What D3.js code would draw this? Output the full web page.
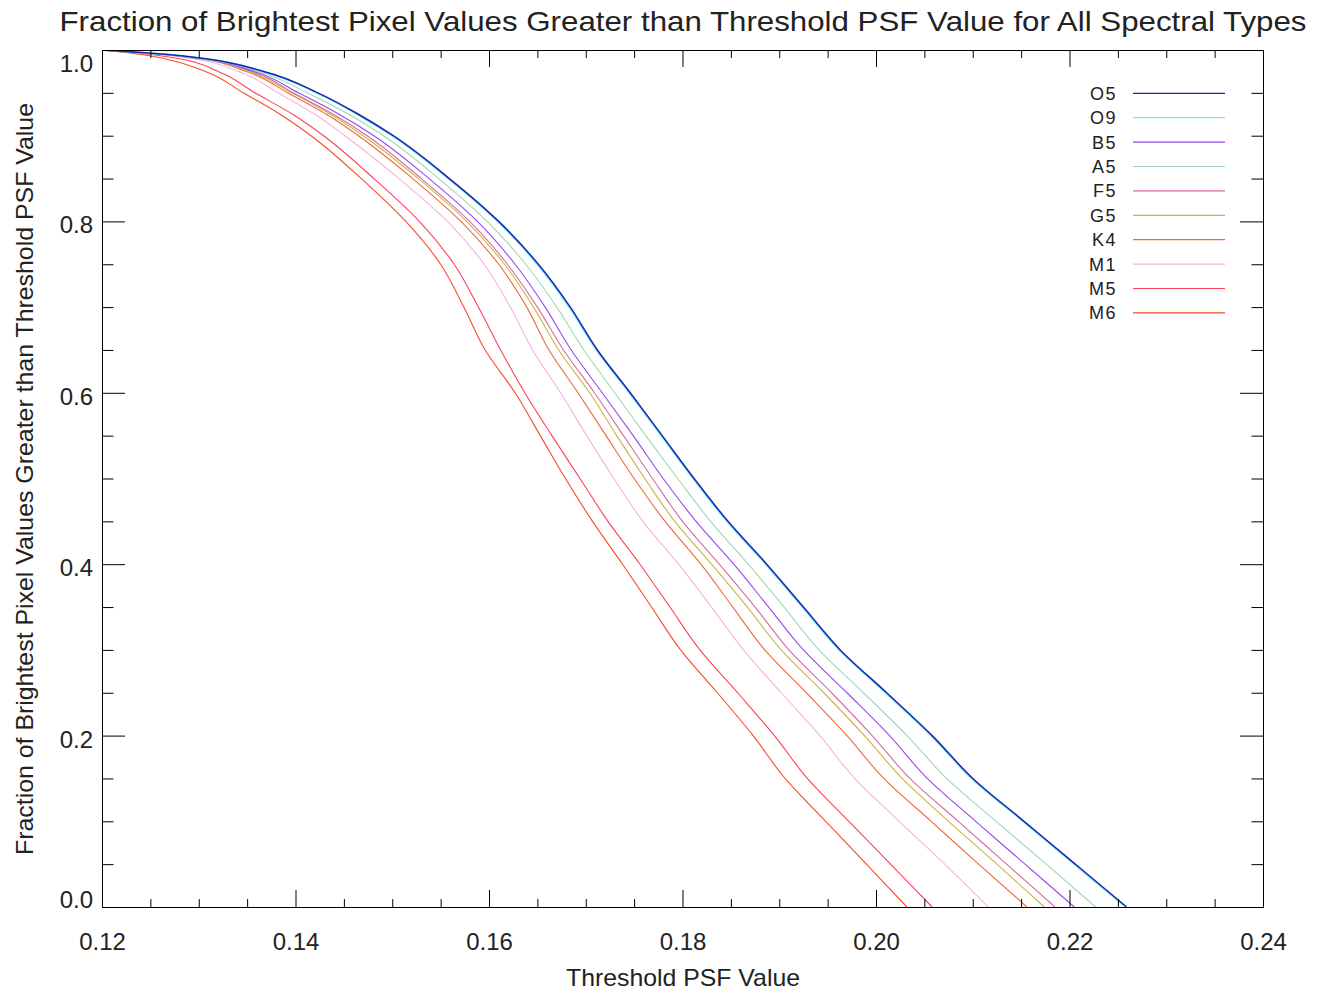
<!DOCTYPE html>
<html>
<head>
<meta charset="utf-8">
<script src="https://cdn.jsdelivr.net/npm/d3@7"></script>
<style>
  html, body { margin: 0; padding: 0; background: #fff; }
  svg { display: block; }
  text { font-family: "Liberation Sans", Arial, Helvetica, sans-serif; fill: #222; }
</style>
</head>
<body>
<svg id="chart" width="1326" height="996"></svg>
<script>
// ---------------- data ----------------
const titleText = "Fraction of Brightest Pixel Values Greater than Threshold PSF Value for All Spectral Types";
const xTitleText = "Threshold PSF Value";
const yTitleText = "Fraction of Brightest Pixel Values Greater than Threshold PSF Value";

const seriesNames = ["O5", "O9", "B5", "A5", "F5", "G5", "K4", "M1", "M5", "M6"];
const seriesColors = ["#2222b0", "#6ff0f0", "#9448f0", "#9fd8b0", "#d46ca6", "#cdb440", "#f2683a", "#f8b2da", "#ff3f58", "#fa4a26"];

// fraction of pixels (y) at which each series' threshold (x) was read
const fractionLevels = [1.0, 0.995, 0.99, 0.975, 0.95, 0.925, 0.9, 0.85, 0.8, 0.75, 0.7, 0.65, 0.6, 0.55, 0.5, 0.45, 0.4, 0.35, 0.3, 0.25, 0.2, 0.15, 0.1, 0.05, 0.0];

const thresholdsO5 = [0.1200, 0.1265, 0.1305, 0.1367, 0.1423, 0.1465, 0.1501, 0.1559, 0.1610, 0.1651, 0.1684, 0.1712, 0.1746, 0.1779, 0.1812, 0.1847, 0.1887, 0.1925, 0.1963, 0.2011, 0.2058, 0.2100, 0.2153, 0.2206, 0.2259];
const thresholdsO9 = [0.1200, 0.1264, 0.1304, 0.1366, 0.1422, 0.1464, 0.1500, 0.1558, 0.1609, 0.1650, 0.1683, 0.1711, 0.1745, 0.1778, 0.1811, 0.1846, 0.1886, 0.1924, 0.1962, 0.2010, 0.2057, 0.2099, 0.2152, 0.2205, 0.2258];
const thresholdsB5 = [0.1200, 0.1263, 0.1302, 0.1357, 0.1403, 0.1445, 0.1481, 0.1538, 0.1588, 0.1627, 0.1658, 0.1685, 0.1717, 0.1749, 0.1780, 0.1814, 0.1853, 0.1889, 0.1925, 0.1970, 0.2014, 0.2053, 0.2103, 0.2154, 0.2205];
const thresholdsA5 = [0.1200, 0.1264, 0.1303, 0.1361, 0.1412, 0.1455, 0.1491, 0.1548, 0.1598, 0.1638, 0.1670, 0.1698, 0.1730, 0.1762, 0.1795, 0.1829, 0.1868, 0.1905, 0.1941, 0.1987, 0.2032, 0.2073, 0.2124, 0.2176, 0.2227];
const thresholdsF5 = [0.1200, 0.1263, 0.1301, 0.1354, 0.1398, 0.1439, 0.1474, 0.1530, 0.1580, 0.1619, 0.1650, 0.1677, 0.1709, 0.1739, 0.1769, 0.1800, 0.1838, 0.1875, 0.1910, 0.1954, 0.1996, 0.2035, 0.2085, 0.2135, 0.2185];
const thresholdsG5 = [0.1200, 0.1262, 0.1300, 0.1351, 0.1396, 0.1436, 0.1470, 0.1527, 0.1577, 0.1616, 0.1646, 0.1672, 0.1704, 0.1732, 0.1761, 0.1792, 0.1830, 0.1867, 0.1902, 0.1946, 0.1988, 0.2027, 0.2075, 0.2125, 0.2174];
const thresholdsK4 = [0.1200, 0.1261, 0.1299, 0.1349, 0.1392, 0.1432, 0.1465, 0.1521, 0.1571, 0.1610, 0.1639, 0.1662, 0.1692, 0.1721, 0.1750, 0.1782, 0.1819, 0.1852, 0.1885, 0.1928, 0.1970, 0.2008, 0.2057, 0.2106, 0.2156];
const thresholdsM1 = [0.1200, 0.1257, 0.1293, 0.1341, 0.1382, 0.1420, 0.1451, 0.1507, 0.1557, 0.1595, 0.1622, 0.1645, 0.1674, 0.1701, 0.1729, 0.1759, 0.1796, 0.1830, 0.1863, 0.1902, 0.1942, 0.1978, 0.2024, 0.2071, 0.2116];
const thresholdsM5 = [0.1200, 0.1249, 0.1279, 0.1320, 0.1358, 0.1397, 0.1429, 0.1481, 0.1528, 0.1564, 0.1589, 0.1612, 0.1637, 0.1665, 0.1694, 0.1723, 0.1756, 0.1787, 0.1818, 0.1857, 0.1895, 0.1929, 0.1972, 0.2015, 0.2058];
const thresholdsM6 = [0.1200, 0.1239, 0.1264, 0.1307, 0.1346, 0.1384, 0.1416, 0.1468, 0.1514, 0.1550, 0.1574, 0.1596, 0.1627, 0.1653, 0.1679, 0.1707, 0.1738, 0.1768, 0.1798, 0.1836, 0.1873, 0.1906, 0.1948, 0.1990, 0.2032];

const xMajorTicks = [0.12, 0.14, 0.16, 0.18, 0.20, 0.22, 0.24];
const xTickLabels = ["0.12", "0.14", "0.16", "0.18", "0.20", "0.22", "0.24"];
const xMinorTicks = [0.125, 0.13, 0.135, 0.145, 0.15, 0.155, 0.165, 0.17, 0.175, 0.185, 0.19, 0.195, 0.205, 0.21, 0.215, 0.225, 0.23, 0.235];
const yMajorTicks = [0.0, 0.2, 0.4, 0.6, 0.8, 1.0];
const yTickLabels = ["0.0", "0.2", "0.4", "0.6", "0.8", "1.0"];
const yMinorTicks = [0.05, 0.1, 0.15, 0.25, 0.3, 0.35, 0.45, 0.5, 0.55, 0.65, 0.7, 0.75, 0.85, 0.9, 0.95];

// ---------------- drawing ----------------
const seriesThresholds = [thresholdsO5, thresholdsO9, thresholdsB5, thresholdsA5, thresholdsF5,
                          thresholdsG5, thresholdsK4, thresholdsM1, thresholdsM5, thresholdsM6];

const svg = d3.select("#chart");
const L = 102, R = 1263, T = 50, B = 907;

const x = d3.scaleLinear().domain([0.12, 0.24]).range([L, R]);
const y = d3.scaleLinear().domain([0, 1]).range([B, T]);

svg.append("rect").attr("width", 1326).attr("height", 996).attr("fill", "#fff");

// title
svg.append("text")
  .attr("x", (L + R + 1) / 2).attr("y", 31)
  .attr("text-anchor", "middle")
  .attr("font-size", 28)
  .attr("textLength", 1247).attr("lengthAdjust", "spacingAndGlyphs")
  .text(titleText);

// clip for data lines
svg.append("clipPath").attr("id", "plotclip")
  .append("rect").attr("x", L).attr("y", T).attr("width", R - L + 1).attr("height", B - T + 1);

// data lines (screen y increases along each series, so monotone-in-y smoothing applies)
const line = d3.line()
  .x(d => x(d[0]))
  .y(d => y(d[1]))
  .curve(d3.curveMonotoneY);

const drawOrder = [9, 8, 7, 6, 5, 4, 3, 2, 1, 0];
const gLines = svg.append("g").attr("clip-path", "url(#plotclip)");
drawOrder.forEach(i => {
  const pts = seriesThresholds[i].map((t, k) => [t, fractionLevels[k]]);
  gLines.append("path")
    .datum(pts)
    .attr("fill", "none")
    .attr("stroke", seriesColors[i])
    .attr("stroke-width", i === 0 ? 1.5 : (i === 1 ? 2 : 1.1))
    .attr("stroke-linejoin", "round")
    .attr("d", line);
});

// axes (ticks only; frame drawn separately)
function styleAxis(g) {
  g.select(".domain").remove();
  g.selectAll(".tick line").attr("stroke", "#000").attr("stroke-width", 1);
  g.selectAll(".tick text").remove();
}
svg.append("g").attr("transform", `translate(0,${B})`)
  .call(d3.axisBottom(x).tickValues(xMajorTicks).tickSize(-17).tickFormat("")).call(styleAxis);
svg.append("g").attr("transform", `translate(0,${B})`)
  .call(d3.axisBottom(x).tickValues(xMinorTicks).tickSize(-8).tickFormat("")).call(styleAxis);
svg.append("g").attr("transform", `translate(0,${T})`)
  .call(d3.axisTop(x).tickValues(xMajorTicks).tickSize(-17).tickFormat("")).call(styleAxis);
svg.append("g").attr("transform", `translate(0,${T})`)
  .call(d3.axisTop(x).tickValues(xMinorTicks).tickSize(-8).tickFormat("")).call(styleAxis);
svg.append("g").attr("transform", `translate(${L},0)`)
  .call(d3.axisLeft(y).tickValues(yMajorTicks).tickSize(-23).tickFormat("")).call(styleAxis);
svg.append("g").attr("transform", `translate(${L},0)`)
  .call(d3.axisLeft(y).tickValues(yMinorTicks).tickSize(-11.5).tickFormat("")).call(styleAxis);
svg.append("g").attr("transform", `translate(${R},0)`)
  .call(d3.axisRight(y).tickValues(yMajorTicks).tickSize(-23).tickFormat("")).call(styleAxis);
svg.append("g").attr("transform", `translate(${R},0)`)
  .call(d3.axisRight(y).tickValues(yMinorTicks).tickSize(-11.5).tickFormat("")).call(styleAxis);

// frame
svg.append("path")
  .attr("d", `M${L + 0.5},${T + 0.5}H${R + 0.5}V${B + 0.5}H${L + 0.5}Z`)
  .attr("fill", "none").attr("stroke", "#000").attr("stroke-width", 1);

// x tick labels
svg.append("g").selectAll("text").data(xMajorTicks).join("text")
  .attr("x", d => x(d) + 0.5)
  .attr("y", 950)
  .attr("text-anchor", "middle")
  .attr("font-size", 24)
  .text((d, i) => xTickLabels[i]);

// y tick labels (IDL keeps end labels inside the axis range)
svg.append("g").selectAll("text").data(yMajorTicks).join("text")
  .attr("x", 93)
  .attr("y", (d, i) => {
    if (i === 0) return y(d) + 0.5;
    if (i === yMajorTicks.length - 1) return y(d) + 21.5;
    return y(d) + 12;
  })
  .attr("text-anchor", "end")
  .attr("font-size", 24)
  .text((d, i) => yTickLabels[i]);

// axis titles
svg.append("text")
  .attr("x", (L + R + 1) / 2).attr("y", 986)
  .attr("text-anchor", "middle")
  .attr("font-size", 24)
  .attr("textLength", 234).attr("lengthAdjust", "spacingAndGlyphs")
  .text(xTitleText);

svg.append("text")
  .attr("transform", `translate(33,${(T + B + 1) / 2}) rotate(-90)`)
  .attr("text-anchor", "middle")
  .attr("font-size", 24)
  .attr("textLength", 752).attr("lengthAdjust", "spacingAndGlyphs")
  .text(yTitleText);

// legend
const legendTop = 93.3, legendStep = 24.4;
const gLeg = svg.append("g");
seriesNames.forEach((name, i) => {
  const ly = legendTop + i * legendStep;
  gLeg.append("text")
    .attr("x", 1117).attr("y", ly + 6.5)
    .attr("text-anchor", "end")
    .attr("font-size", 18)
    .attr("letter-spacing", 1.5)
    .text(name);
  gLeg.append("line")
    .attr("x1", 1133).attr("x2", 1225)
    .attr("y1", ly).attr("y2", ly)
    .attr("stroke", seriesColors[i]).attr("stroke-width", 1.2);
});
</script>
</body>
</html>
